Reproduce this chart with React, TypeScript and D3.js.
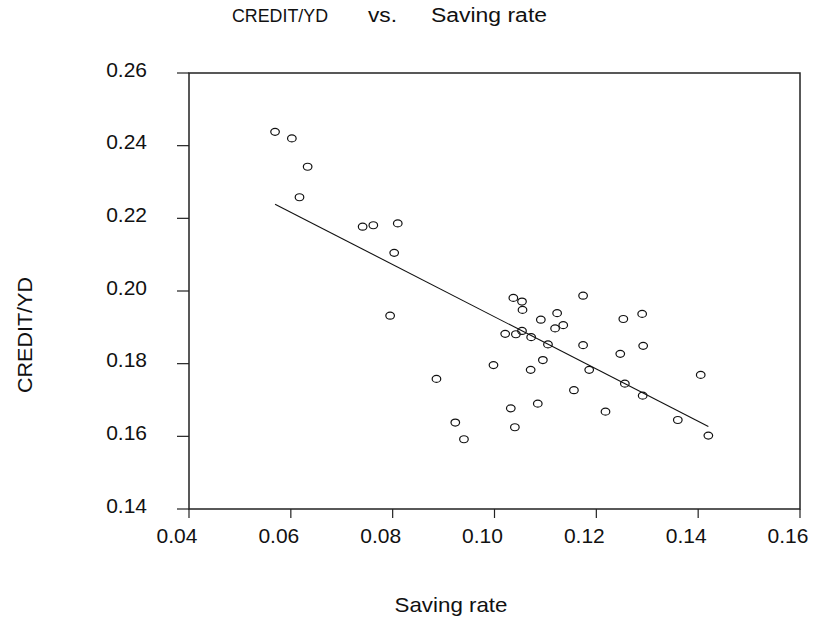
import React from "react";
import * as d3 from "d3";

// Observations: saving rate (x) and credit / disposable income (y)
const savingRate = [
  0.0569, 0.0602, 0.0633, 0.0617, 0.0741, 0.0762, 0.081, 0.0803, 0.0795, 0.0886,
  0.0923, 0.094, 0.0998, 0.1037, 0.1054, 0.1055, 0.1174, 0.1123, 0.1091, 0.129,
  0.1253, 0.1135, 0.1119, 0.1021, 0.1042, 0.1054, 0.1072, 0.1105, 0.1174, 0.1292,
  0.1247, 0.1095, 0.1071, 0.1186, 0.1405, 0.1256, 0.1156, 0.1291, 0.1032, 0.1085,
  0.1218, 0.136, 0.104, 0.142,
];
const creditYd = [
  0.2438, 0.242, 0.2342, 0.2258, 0.2177, 0.2181, 0.2186, 0.2105, 0.1932, 0.1758,
  0.1638, 0.1592, 0.1796, 0.1981, 0.1971, 0.1948, 0.1987, 0.1939, 0.1921, 0.1937,
  0.1923, 0.1906, 0.1897, 0.1882, 0.1881, 0.189, 0.1873, 0.1853, 0.1851, 0.1849,
  0.1827, 0.181, 0.1783, 0.1783, 0.1769, 0.1745, 0.1727, 0.1712, 0.1677, 0.169,
  0.1668, 0.1645, 0.1625, 0.1602,
];

// Fitted regression line
const FIT_INTERCEPT = 0.2648;
const FIT_SLOPE = -0.719;

const xTicks = [0.04, 0.06, 0.08, 0.1, 0.12, 0.14, 0.16];
const yTicks = [0.14, 0.16, 0.18, 0.2, 0.22, 0.24, 0.26];

const W = 813;
const H = 617;
const M = { left: 189, right: 800, top: 73, bottom: 509 };
const FONT = "'Liberation Sans', Arial, Helvetica, sans-serif";

export default function App() {
  const x = d3.scaleLinear().domain([0.04, 0.16]).range([M.left, M.right]);
  const y = d3.scaleLinear().domain([0.14, 0.26]).range([M.bottom, M.top]);

  const pts = savingRate.map((v, i) => [v, creditYd[i]] as [number, number]);
  const [xMin, xMax] = d3.extent(savingRate) as [number, number];
  const fit = d3
    .line<number>()
    .x((v) => x(v))
    .y((v) => y(FIT_INTERCEPT + FIT_SLOPE * v));

  return (
    <svg
      width={W}
      height={H}
      style={{ position: "absolute", left: 0, top: 0, background: "#fff" }}
      fontFamily={FONT}
    >
      <rect width={W} height={H} fill="#fff" />
      {/* title */}
      <g fill="#111">
        <text x={232} y={22} fontSize={19} textLength={96} lengthAdjust="spacingAndGlyphs">CREDIT/YD</text>
        <text x={368} y={22} fontSize={20} textLength={29} lengthAdjust="spacingAndGlyphs">vs.</text>
        <text x={431} y={22} fontSize={20} textLength={116} lengthAdjust="spacingAndGlyphs">Saving rate</text>
      </g>

      {/* frame */}
      <rect
        x={M.left}
        y={M.top}
        width={M.right - M.left}
        height={M.bottom - M.top}
        fill="none"
        stroke="#222"
        strokeWidth={1.5}
      />

      {/* y axis */}
      {yTicks.map((t) => (
        <g key={"y" + t}>
          <line x1={M.left - 12} x2={M.left} y1={y(t)} y2={y(t)} stroke="#222" strokeWidth={1.2} />
          <text x={147} y={y(t) + 3.5} textAnchor="end" fontSize={21} fill="#111">
            {d3.format(".2f")(t)}
          </text>
        </g>
      ))}

      {/* x axis */}
      {xTicks.map((t) => (
        <g key={"x" + t}>
          <line x1={x(t)} x2={x(t)} y1={M.bottom} y2={M.bottom + 9} stroke="#222" strokeWidth={1.2} />
          <text x={x(t) - 12} y={542.5} textAnchor="middle" fontSize={21} fill="#111">
            {d3.format(".2f")(t)}
          </text>
        </g>
      ))}

      {/* axis titles */}
      <text x={451} y={612} textAnchor="middle" fontSize={21} fill="#111" textLength={113} lengthAdjust="spacingAndGlyphs">
        Saving rate
      </text>
      <text
        transform={`translate(32,335) rotate(-90)`}
        textAnchor="middle"
        fontSize={20}
        fill="#111"
        textLength={116}
        lengthAdjust="spacingAndGlyphs"
      >
        CREDIT/YD
      </text>

      {/* regression line */}
      <path d={fit([xMin, xMax]) || ""} fill="none" stroke="#111" strokeWidth={1.1} />

      {/* observations */}
      {pts.map(([a, b], i) => (
        <ellipse
          key={i}
          cx={x(a)}
          cy={y(b)}
          rx={4.3}
          ry={3.5}
          fill="none"
          stroke="#111"
          strokeWidth={1.2}
        />
      ))}
    </svg>
  );
}
